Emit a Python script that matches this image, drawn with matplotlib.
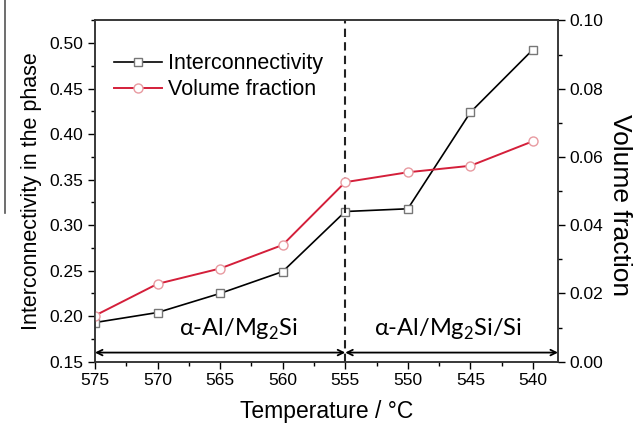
import matplotlib.pyplot as plt
from matplotlib.lines import Line2D
import numpy as np

temps = [575, 570, 565, 560, 555, 550, 545, 540]
interconn = [0.193, 0.204, 0.225, 0.249, 0.315, 0.318, 0.424, 0.493]
vol_frac = [0.0135, 0.0228, 0.0273, 0.0342, 0.0526, 0.0555, 0.0574, 0.0646]
region_labels = [r'$\mathregular{\alpha}$-Al/Mg$_\mathregular{2}$Si',
                 r'$\mathregular{\alpha}$-Al/Mg$_\mathregular{2}$Si/Si']

plt.rcParams['font.family'] = ['Liberation Sans', 'DejaVu Sans']
plt.rcParams['mathtext.fontset'] = 'custom'
plt.rcParams['mathtext.rm'] = 'Lato'

fig = plt.figure(figsize=(6.33, 4.25), dpi=100)
ax1 = fig.add_axes([0.150, 0.149, 0.7315, 0.803])
ax2 = ax1.twinx()

red = '#d41f3a'
l1, = ax1.plot(temps, interconn, '-', color='black', lw=1.2,
               marker='s', ms=6, mfc='white', mec='#777777', mew=1.0,
               label='Interconnectivity')
l2, = ax2.plot(temps, vol_frac, '-', color=red, lw=1.4,
               marker='o', ms=6.5, mfc='white', mec='#e89aa0', mew=1.0,
               label='Volume fraction')

ax1.set_xlim(575, 538)
ax1.set_ylim(0.15, 0.525)
ax2.set_ylim(0, 0.10)

ax1.set_xticks(np.arange(575, 539, -5))
ax1.set_xticks(np.arange(572.5, 538, -5), minor=True)
ax1.set_yticks(np.arange(0.15, 0.51, 0.05))
ax1.set_yticks(np.arange(0.175, 0.526, 0.05), minor=True)
ax2.set_yticks(np.arange(0, 0.101, 0.02))
ax2.set_yticks(np.arange(0.01, 0.1, 0.02), minor=True)
ax1.yaxis.set_major_formatter(plt.FormatStrFormatter('%.2f'))
ax2.yaxis.set_major_formatter(plt.FormatStrFormatter('%.2f'))

for ax in (ax1, ax2):
    ax.tick_params(which='major', direction='out', length=5, width=1, labelsize=12.5)
    ax.tick_params(which='minor', direction='out', length=3, width=1)
    for s in ax.spines.values():
        s.set_linewidth(1.1)
        s.set_color('#333333')

ax1.set_xlabel('Temperature / °C', fontsize=16.5, labelpad=8)
ax1.set_ylabel('Interconnectivity in the phase', fontsize=15.5, labelpad=5)
ax2.set_ylabel('Volume fraction', fontsize=19, rotation=270,
               va='center', ha='center')
ax2.yaxis.set_label_coords(1.133, 0.46)

# phase boundary
ax1.axvline(555, color='#222222', ls=(0, (4, 2.5)), lw=1.5)

# double arrows
ax1.annotate('', xy=(555, 0.16), xytext=(575, 0.16),
             arrowprops=dict(arrowstyle='<->', color='black', lw=1.3,
                             shrinkA=0, shrinkB=0))
ax1.annotate('', xy=(538, 0.16), xytext=(555, 0.16),
             arrowprops=dict(arrowstyle='<->', color='black', lw=1.3,
                             shrinkA=0, shrinkB=0))

ax1.text(563.5, 0.186, region_labels[0], ha='center', va='center',
         fontsize=17, family='Lato')
ax1.text(546.8, 0.186, region_labels[1], ha='center', va='center',
         fontsize=17, family='Lato')

ax1.legend(handles=[l1, l2], loc='upper left', bbox_to_anchor=(0.0, 0.96),
           frameon=False, fontsize=15.5, handlelength=2.2, handletextpad=0.3,
           labelspacing=0.22, borderaxespad=0.5)

# stray scan line at the left edge of the source image
fig.add_artist(Line2D([0.008, 0.008], [1.0, 0.5], color='#555555', lw=1.2))

plt.savefig('out.png', dpi=100)
